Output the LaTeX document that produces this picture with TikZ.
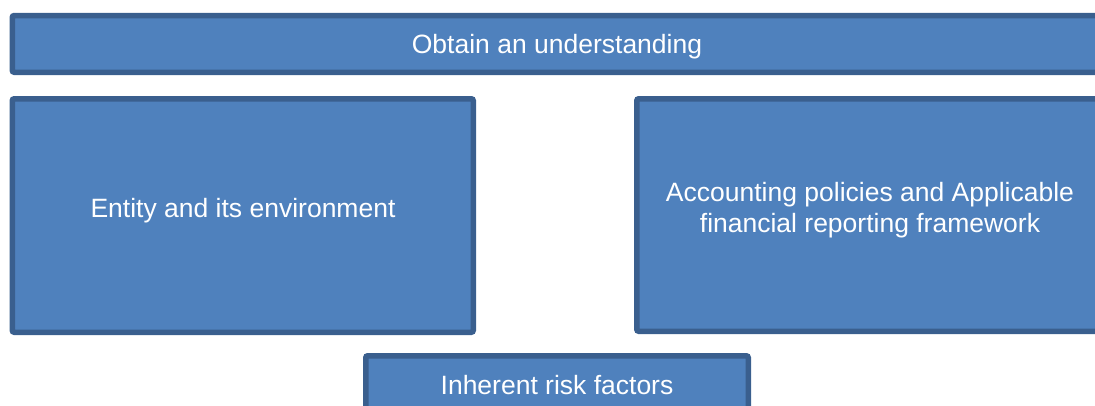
\documentclass[tikz,border=0pt]{standalone}
\usepackage{fontspec}
\setmainfont{Liberation Sans}
\definecolor{boxfill}{HTML}{4F81BD}
\definecolor{boxline}{HTML}{3A5F8E}
\begin{document}
\begin{tikzpicture}[x=1pt,y=-1pt,
  panel/.style={draw=boxline,fill=boxfill,line width=5.5pt,rounded corners=2pt},
  caption/.style={text=white,font=\fontsize{26.5}{30.5}\selectfont,align=center,inner sep=0pt}]
\useasboundingbox (0,0) rectangle (1095,405);
% boxes
\draw[panel] (12.25,15.5) rectangle (1105,72.25);
\draw[panel] (12.25,98.75) rectangle (473.25,332.25);
\draw[panel] (636.75,98.75) rectangle (1105,331.25);
\draw[panel] (365.75,355.75) rectangle (748.25,420);
% labels
\node[caption] (obtain) at (557,46.5) {Obtain an understanding};
\node[caption] (entity) at (243,211) {Entity and its environment};
\node[caption] (policies) at (870,210) {Accounting policies and Applicable\\financial reporting framework};
\node[caption] (irf) at (557,385) {Inherent risk factors};
\end{tikzpicture}
\end{document}
